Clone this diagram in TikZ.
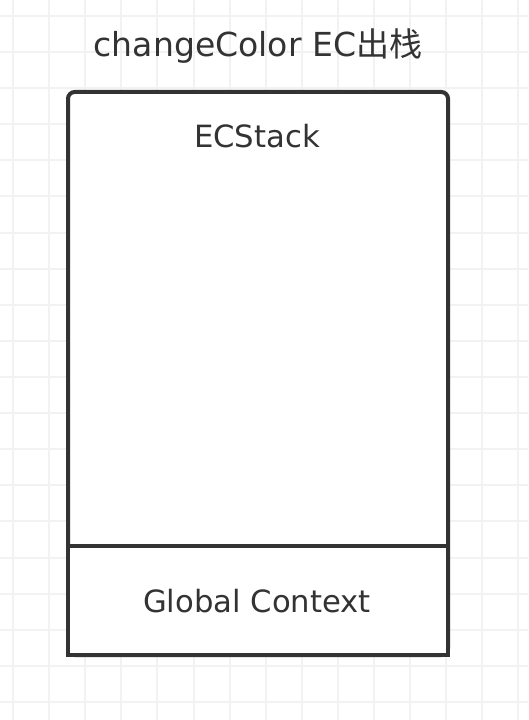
\documentclass[tikz,border=0pt]{standalone}
\usepackage{fontspec}
\setmainfont{DejaVu Sans}
\newfontfamily\cjk{Noto Sans CJK SC}
\definecolor{ink}{HTML}{333333}
\definecolor{gridgray}{HTML}{F2F2F2}
\begin{document}
\begin{tikzpicture}[x=0.75pt,y=-0.75pt,
    gridline/.style={gridgray, line width=1.5pt},
    stackline/.style={ink, line width=3pt, fill=white},
    caption/.style={ink, anchor=base, inner sep=0pt, font=\fontsize{24.8}{28}\selectfont},
    boxtext/.style={ink, anchor=base, inner sep=0pt, font=\fontsize{23}{27}\selectfont}]
        \fill [white] (0,0) rectangle (528,720);
        \useasboundingbox (0,0) rectangle (528,720);
        % background grid
        \foreach \k in {0,...,14}
            \draw [gridline] ({13+36.1*\k},0) -- ({13+36.1*\k},720);
        \foreach \k in {0,...,19}
            \draw [gridline] (0,{16+36.1*\k}) -- (528,{16+36.1*\k});
        % stack
        \draw [stackline, rounded corners=5pt] (68,92) rectangle (448,655);
        \draw [stackline] (68,546) rectangle (448,655);
        \node [caption] (title) at (258,56.5) {changeColor EC{\cjk 出栈}};
        \node [boxtext] (ecstack) at (257,148) {ECStack};
        \node [boxtext] (global) at (257,612) {Global Context};
\end{tikzpicture}
\end{document}
